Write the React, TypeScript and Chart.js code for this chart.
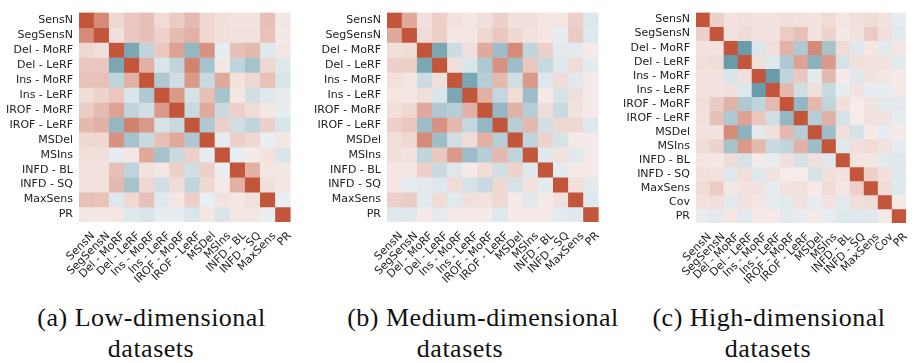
import React, { useEffect, useRef } from "react";
import { Chart, registerables } from "chart.js";

Chart.register(...registerables);

// ---------- data ----------
const labelsLow = ["SensN", "SegSensN", "Del - MoRF", "Del - LeRF", "Ins - MoRF", "Ins - LeRF", "IROF - MoRF", "IROF - LeRF", "MSDel", "MSIns", "INFD - BL", "INFD - SQ", "MaxSens", "PR"];
const labelsMed = ["SensN", "SegSensN", "Del - MoRF", "Del - LeRF", "Ins - MoRF", "Ins - LeRF", "IROF - MoRF", "IROF - LeRF", "MSDel", "MSIns", "INFD - BL", "INFD - SQ", "MaxSens", "PR"];
const labelsHigh = ["SensN", "SegSensN", "Del - MoRF", "Del - LeRF", "Ins - MoRF", "Ins - LeRF", "IROF - MoRF", "IROF - LeRF", "MSDel", "MSIns", "INFD - BL", "INFD - SQ", "MaxSens", "Cov", "PR"];

// lower triangles of the correlation matrices (row i, columns 0..i-1); diagonal = 1
const lowerLow = [
  [],
  [0.65],
  [0.15, 0.1],
  [0.25, 0.25, -0.65],
  [0.3, 0.3, -0.25, 0.4],
  [0.12, 0.18, 0.25, -0.1, -0.35],
  [0.22, 0.33, 0.5, -0.25, -0.15, 0.55],
  [0.35, 0.4, -0.5, 0.7, 0.55, -0.12, -0.2],
  [0.15, 0.15, 0.6, -0.4, -0.2, 0.3, 0.45, -0.35],
  [0.1, 0.1, -0.03, 0.05, 0.45, -0.4, -0.2, 0.2, -0.03],
  [0.07, 0.08, 0.3, -0.25, 0.08, 0.05, 0.2, -0.15, 0.2, -0.02],
  [0.07, 0.08, 0.35, -0.4, 0.15, -0.15, 0.12, -0.25, 0.15, 0.03, 0.4],
  [0.3, 0.28, -0.08, 0.15, 0.3, -0.07, 0.05, 0.2, -0.02, 0.07, 0.05, 0.1],
  [0.05, 0.04, 0.05, -0.08, -0.1, -0.03, -0.03, -0.1, 0.05, -0.1, 0.05, 0.05, -0.02],
];

const lowerMed = [
  [],
  [0.45],
  [0.1, 0.12],
  [0.2, 0.2, -0.65],
  [0.08, 0.05, -0.18, 0.1],
  [0.05, 0.05, 0.1, -0.1, -0.65],
  [0.1, 0.15, 0.45, -0.35, -0.3, 0.4],
  [0.2, 0.25, -0.45, 0.6, 0.35, -0.22, -0.5],
  [0.1, 0.15, 0.65, -0.45, -0.15, 0.12, 0.4, -0.3],
  [0.1, 0.08, -0.25, 0.25, 0.55, -0.45, -0.3, 0.35, -0.25],
  [0.05, 0.05, 0.2, -0.2, -0.08, 0.03, 0.12, -0.15, 0.18, -0.07],
  [0.05, -0.03, -0.05, -0.08, 0.12, -0.12, -0.2, 0.15, -0.12, 0.08, -0.04],
  [0.2, 0.22, -0.05, 0.12, -0.06, 0.1, 0.08, 0.15, 0.03, -0.06, 0.03, 0.1],
  [-0.08, -0.07, 0.03, -0.04, 0.03, 0.03, 0.03, -0.07, 0.03, 0.03, 0.03, -0.05, -0.07],
];

const lowerHigh = [
  [],
  [0.2],
  [0.08, 0.08],
  [0.1, 0.12, -0.75],
  [0.07, 0.07, -0.1, 0.1],
  [0.07, 0.07, 0.1, -0.08, -0.75],
  [0.1, 0.22, 0.4, -0.35, -0.25, 0.35],
  [0.08, 0.3, -0.35, 0.5, 0.25, -0.15, -0.5],
  [0.07, 0.07, 0.65, -0.55, -0.05, 0.1, 0.35, -0.3],
  [0.12, 0.18, -0.4, 0.55, 0.35, -0.2, -0.25, 0.4, -0.45],
  [0.05, 0.04, 0.12, -0.12, 0.03, -0.03, 0.1, -0.12, 0.1, -0.07],
  [0.1, 0.08, -0.07, 0.1, -0.07, 0.07, 0.02, 0.02, -0.12, 0.1, 0.07],
  [0.12, 0.22, 0.05, 0.07, 0.07, -0.03, 0.07, 0.08, 0.03, 0.12, 0.05, 0.2],
  [0.08, 0.1, -0.05, 0.07, 0.05, -0.03, -0.05, 0.07, -0.03, 0.07, -0.05, 0.1, 0.12],
  [-0.03, -0.05, 0.05, -0.05, 0.03, 0.03, -0.05, -0.03, 0.03, -0.03, -0.07, -0.07, -0.07, 0.03],
];

const captionA = ["(a) Low-dimensional", "datasets"];
const captionB = ["(b) Medium-dimensional", "datasets"];
const captionC = ["(c) High-dimensional", "datasets"];

// ---------- colormap (diverging blue - light gray - red) ----------
const NEG = [63, 127, 147];
const NEG_LIGHT = [234, 239, 242];
const MID = [242, 242, 242];
const POS_LIGHT = [246, 237, 235];
const POS = [195, 85, 58];

function lerp(a: number[], b: number[], t: number) {
  return a.map((v, i) => v + (b[i] - v) * t);
}
function valueToColor(v: number) {
  const t = Math.max(0, Math.min(1, (v + 1) / 2));
  const f = t * 256;
  let c: number[];
  if (f <= 127) c = lerp(NEG, NEG_LIGHT, f / 127);
  else if (f <= 128) c = lerp(NEG_LIGHT, MID, f - 127);
  else if (f <= 129) c = lerp(MID, POS_LIGHT, f - 128);
  else c = lerp(POS_LIGHT, POS, (f - 129) / 127);
  return `rgb(${Math.round(c[0])},${Math.round(c[1])},${Math.round(c[2])})`;
}

function fullMatrix(lower: number[][]) {
  const n = lower.length;
  const m: number[][] = [];
  for (let i = 0; i < n; i++) {
    const row: number[] = [];
    for (let j = 0; j < n; j++) {
      row.push(i === j ? 1 : i > j ? lower[i][j] : lower[j][i]);
    }
    m.push(row);
  }
  return m;
}

type PanelProps = {
  labels: string[];
  lower: number[][];
  left: number;
  width: number;
  height: number;
  yw: number;
  xh: number;
  padTop: number;
  padRight: number;
};

function Heatmap(p: PanelProps) {
  const ref = useRef<HTMLCanvasElement | null>(null);
  useEffect(() => {
    if (!ref.current) return;
    const M = fullMatrix(p.lower);
    const n = p.labels.length;
    const tickFont = { family: "DejaVu Sans", size: 11 };
    const chart = new Chart(ref.current, {
      type: "bar",
      data: {
        labels: p.labels,
        datasets: M.map((row, r) => ({
          label: p.labels[r],
          data: row.map(() => 1),
          backgroundColor: row.map((v) => valueToColor(v)),
          borderWidth: 0,
          barPercentage: 1,
          categoryPercentage: 1,
          stack: "s",
          yAxisID: "y",
        })),
      },
      options: {
        responsive: false,
        animation: false,
        events: [],
        layout: { padding: { top: p.padTop, right: p.padRight, left: 0, bottom: 0 } },
        plugins: { legend: { display: false }, tooltip: { enabled: false } },
        scales: {
          x: {
            type: "category",
            stacked: true,
            offset: true,
            grid: { display: false, drawTicks: false },
            border: { display: false },
            ticks: {
              autoSkip: false,
              minRotation: 45,
              maxRotation: 45,
              padding: 7.5,
              labelOffset: 6.5,
              font: tickFont,
              color: "#222",
            },
            afterFit: (s: any) => {
              s.height = p.xh;
            },
          },
          y: {
            type: "linear",
            stacked: true,
            min: 0,
            max: n,
            reverse: true,
            display: false,
          },
          yl: {
            type: "category",
            labels: p.labels,
            position: "left",
            offset: true,
            grid: { display: false, drawTicks: false },
            border: { display: false },
            ticks: { autoSkip: false, padding: 6, font: tickFont, color: "#222" },
            afterFit: (s: any) => {
              s.width = p.yw;
            },
          },
        },
      } as any,
    });
    return () => chart.destroy();
  }, []);
  return (
    <canvas
      ref={ref}
      width={p.width}
      height={p.height}
      style={{ position: "absolute", left: p.left, top: 0, width: p.width, height: p.height }}
    />
  );
}

const captionStyle: React.CSSProperties = {
  position: "absolute",
  fontFamily: "'Liberation Serif', 'Times New Roman', serif",
  fontSize: 26,
  lineHeight: "30px",
  letterSpacing: "0.5px",
  color: "#111",
  whiteSpace: "nowrap",
  textAlign: "center",
  width: 300,
};

function Caption({ text, center, top }: { text: string; center: number; top: number }) {
  return <div style={{ ...captionStyle, left: center - 150, top }}>{text}</div>;
}

export default function App() {
  return (
    <div style={{ position: "absolute", left: 0, top: 0, width: 916, height: 363, background: "#fff", overflow: "hidden" }}>
      <Heatmap labels={labelsLow} lower={lowerLow} left={0} width={300} height={300} yw={79} xh={78} padTop={4} padRight={3} />
      <Heatmap labels={labelsMed} lower={lowerMed} left={308} width={300} height={300} yw={79} xh={78} padTop={4} padRight={2} />
      <Heatmap labels={labelsHigh} lower={lowerHigh} left={617} width={299} height={300} yw={79} xh={77} padTop={4} padRight={0} />
      <Caption text={captionA[0]} center={151.5} top={303} />
      <Caption text={captionA[1]} center={151} top={334} />
      <Caption text={captionB[0]} center={483} top={303} />
      <Caption text={captionB[1]} center={460} top={334} />
      <Caption text={captionC[0]} center={769} top={303} />
      <Caption text={captionC[1]} center={768} top={334} />
    </div>
  );
}
